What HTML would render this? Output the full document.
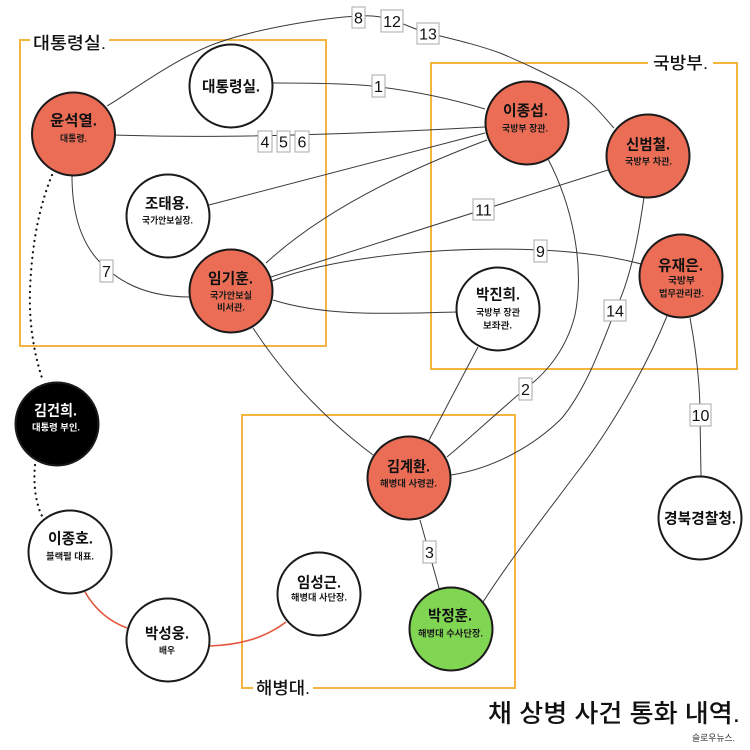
<!DOCTYPE html>
<html><head><meta charset="utf-8"><style>
html,body{margin:0;padding:0;background:#fff;}
svg{display:block;}
text{font-family:"Liberation Sans","Noto Sans CJK KR",sans-serif;}
.nm{font-size:15px;font-weight:700;fill:#111;text-anchor:middle;}
.sb{font-size:9px;font-weight:700;fill:#1a1a1a;text-anchor:middle;}
.lb{font-size:16px;fill:#111;text-anchor:middle;font-family:"Liberation Sans",sans-serif;}
.e{fill:none;stroke:#3a3a3a;stroke-width:1;}
.r{fill:none;stroke:#e4553b;stroke-width:1.6;}
.d{fill:none;stroke:#111;stroke-width:2.2;stroke-linecap:round;stroke-dasharray:0.1 5.6;}
.c{stroke:#1a1a1a;stroke-width:2;}
.bx{fill:#fff;stroke:#a8a8a8;stroke-width:1;}
.ob{fill:none;stroke:#f5b440;stroke-width:2;}
.gl{font-size:17px;font-weight:500;fill:#111;}
</style></head><body>
<svg width="750" height="750" viewBox="0 0 750 750" xmlns="http://www.w3.org/2000/svg">
<rect width="750" height="750" fill="#fff"/>

<path class="ob" d="M30,40 L20,40 L20,346 L326,346 L326,40 L109,40"/>
<text class="gl" x="33" y="49" textLength="73" lengthAdjust="spacingAndGlyphs">대통령실.</text>

<path class="ob" d="M648,63 L431,63 L431,369 L737,369 L737,63 L713,63"/>
<text class="gl" x="653" y="69" textLength="55" lengthAdjust="spacingAndGlyphs">국방부.</text>

<path class="ob" d="M253,688 L242,688 L242,415 L515,415 L515,688 L313,688"/>
<text class="gl" x="256" y="694" textLength="54" lengthAdjust="spacingAndGlyphs">해병대.</text>

<path class="e" d="M107,106 C125,96 175,58 217,43 C259,28 323,18 358,16 C393,14 404,27 428,33 C452,39 475,44 500,53 C524,63 556,78 575,90 C594,103 608,122 614,128"/>
<path class="e" d="M273,83 C320,83 360,84 380,87 C420,92 455,100 485,109"/>
<path class="e" d="M115,135 Q250,140 485,127"/>
<path class="e" d="M209,205 L485,133"/>
<path class="e" d="M266,263 Q340,195 487,140"/>
<path class="e" d="M271,277 L608,170"/>
<path class="e" d="M272,281 C320,262 420,245 540,250 C585,252 615,257 641,264"/>
<path class="e" d="M273,300 C330,318 400,313 457,312"/>
<path class="e" d="M72,176 C72,220 85,250 106,268 C130,290 160,297 190,297"/>
<path class="e" d="M253,328 Q300,400 373,455"/>
<path class="e" d="M478,347 L428,442"/>
<path class="e" d="M548,159 C572,205 585,265 575,315 C565,355 540,378 525,389 C500,410 470,438 447,457"/>
<path class="e" d="M644,197 C638,240 630,280 615,311 C600,350 585,390 562,418 C535,445 495,468 451,475"/>
<path class="e" d="M667,316 C645,370 610,430 575,475 C545,515 510,560 483,602"/>
<path class="e" d="M690,318 C696,350 700,385 700,415 L701,476"/>
<path class="e" d="M420,520 L439,588"/>

<path class="r" d="M85,592 Q100,618 127,628"/>
<path class="r" d="M209,646 C240,645 265,638 286,622"/>

<path class="d" d="M52,175 C40,205 32,240 30,290 C29,320 33,350 42,378"/>
<path class="d" d="M35,465 C33,485 36,505 43,518"/>

<circle class="c" cx="73.5" cy="134" r="41.5" fill="#ec6d56"/>
<circle class="c" cx="231" cy="86" r="41.5" fill="#fff"/>
<circle class="c" cx="168" cy="216" r="41.5" fill="#fff"/>
<circle class="c" cx="231" cy="291" r="41.5" fill="#ec6d56"/>
<circle class="c" cx="527" cy="123" r="41.5" fill="#ec6d56"/>
<circle class="c" cx="648" cy="156" r="41.5" fill="#ec6d56"/>
<circle class="c" cx="681" cy="276" r="41.5" fill="#ec6d56"/>
<circle class="c" cx="498" cy="309" r="41.5" fill="#fff"/>
<circle class="c" cx="57" cy="424" r="41.5" fill="#000"/>
<circle class="c" cx="70" cy="552" r="41.5" fill="#fff"/>
<circle class="c" cx="168" cy="640" r="41.5" fill="#fff"/>
<circle class="c" cx="319" cy="594" r="41.5" fill="#fff"/>
<circle class="c" cx="409" cy="478" r="41.5" fill="#ec6d56"/>
<circle class="c" cx="451" cy="629" r="41.5" fill="#80d552"/>
<circle class="c" cx="700" cy="518" r="41.5" fill="#fff"/>

<text class="nm" x="73.5" y="125.5" textLength="47" lengthAdjust="spacingAndGlyphs">윤석열.</text>
<text class="sb" x="73.5" y="141.3" textLength="27" lengthAdjust="spacingAndGlyphs">대통령.</text>

<text class="nm" x="231" y="91.5" textLength="58" lengthAdjust="spacingAndGlyphs">대통령실.</text>

<text class="nm" x="167" y="208.5" textLength="44" lengthAdjust="spacingAndGlyphs">조태용.</text>
<text class="sb" x="167.5" y="223.3" textLength="51" lengthAdjust="spacingAndGlyphs">국가안보실장.</text>

<text class="nm" x="230.5" y="283.5" textLength="45" lengthAdjust="spacingAndGlyphs">임기훈.</text>
<text class="sb" x="231" y="298.3" textLength="42" lengthAdjust="spacingAndGlyphs">국가안보실</text>
<text class="sb" x="231" y="310.3" textLength="28" lengthAdjust="spacingAndGlyphs">비서관.</text>

<text class="nm" x="525.5" y="115.5" textLength="45" lengthAdjust="spacingAndGlyphs">이종섭.</text>
<text class="sb" x="525" y="131.3" textLength="46" lengthAdjust="spacingAndGlyphs">국방부 장관.</text>

<text class="nm" x="648" y="149.5" textLength="44" lengthAdjust="spacingAndGlyphs">신범철.</text>
<text class="sb" x="648.5" y="164.3" textLength="47" lengthAdjust="spacingAndGlyphs">국방부 차관.</text>

<text class="nm" x="680.5" y="270.5" textLength="45" lengthAdjust="spacingAndGlyphs">유재은.</text>
<text class="sb" x="681.5" y="283.3" textLength="27" lengthAdjust="spacingAndGlyphs">국방부</text>
<text class="sb" x="681.5" y="296.3" textLength="45" lengthAdjust="spacingAndGlyphs">법무관리관.</text>

<text class="nm" x="498" y="299.5" textLength="44" lengthAdjust="spacingAndGlyphs">박진희.</text>
<text class="sb" x="498" y="315.3" textLength="44" lengthAdjust="spacingAndGlyphs">국방부 장관</text>
<text class="sb" x="497.5" y="328.3" textLength="29" lengthAdjust="spacingAndGlyphs">보좌관.</text>

<text class="nm" x="55.5" y="415.5" textLength="43" lengthAdjust="spacingAndGlyphs" style="fill:#fff">김건희.</text>
<text class="sb" x="56" y="430.3" textLength="48" lengthAdjust="spacingAndGlyphs" style="fill:#fff">대통령 부인.</text>

<text class="nm" x="70.5" y="543.5" textLength="45" lengthAdjust="spacingAndGlyphs">이종호.</text>
<text class="sb" x="70" y="559.3" textLength="48" lengthAdjust="spacingAndGlyphs">블랙펄 대표.</text>

<text class="nm" x="167" y="638.5" textLength="44" lengthAdjust="spacingAndGlyphs">박성웅.</text>
<text class="sb" x="167" y="653.3" textLength="16" lengthAdjust="spacingAndGlyphs">배우</text>

<text class="nm" x="319" y="587.5" textLength="44" lengthAdjust="spacingAndGlyphs">임성근.</text>
<text class="sb" x="319" y="600.3" textLength="56" lengthAdjust="spacingAndGlyphs">해병대 사단장.</text>

<text class="nm" x="408.5" y="471.5" textLength="43" lengthAdjust="spacingAndGlyphs">김계환.</text>
<text class="sb" x="408.5" y="486.3" textLength="57" lengthAdjust="spacingAndGlyphs">해병대 사령관.</text>

<text class="nm" x="450" y="620.5" textLength="44" lengthAdjust="spacingAndGlyphs">박정훈.</text>
<text class="sb" x="450.5" y="636.3" textLength="65" lengthAdjust="spacingAndGlyphs">해병대 수사단장.</text>

<text class="nm" x="700" y="523.5" textLength="72" lengthAdjust="spacingAndGlyphs">경북경찰청.</text>

<rect class="bx" x="352" y="7" width="13" height="21"/><text class="lb" x="358.5" y="23.5">8</text>
<rect class="bx" x="381" y="10" width="22" height="22"/><text class="lb" x="392" y="27">12</text>
<rect class="bx" x="417" y="23" width="22" height="21"/><text class="lb" x="428" y="39.5">13</text>
<rect class="bx" x="372" y="75" width="13" height="22"/><text class="lb" x="378.5" y="92">1</text>
<rect class="bx" x="258" y="131" width="14" height="21"/><text class="lb" x="265" y="147.5">4</text>
<rect class="bx" x="277" y="131" width="13" height="21"/><text class="lb" x="283.5" y="147.5">5</text>
<rect class="bx" x="295" y="131" width="14" height="21"/><text class="lb" x="302" y="147.5">6</text>
<rect class="bx" x="100" y="260" width="13" height="22"/><text class="lb" x="106.5" y="277">7</text>
<rect class="bx" x="473" y="199" width="21" height="21"/><text class="lb" x="483.5" y="215.5">11</text>
<rect class="bx" x="534" y="240" width="13" height="22"/><text class="lb" x="540.5" y="257">9</text>
<rect class="bx" x="604" y="300" width="22" height="21"/><text class="lb" x="615" y="316.5">14</text>
<rect class="bx" x="519" y="378" width="13" height="22"/><text class="lb" x="525.5" y="395">2</text>
<rect class="bx" x="690" y="404" width="21" height="22"/><text class="lb" x="700.5" y="421">10</text>
<rect class="bx" x="423" y="541" width="13" height="22"/><text class="lb" x="429.5" y="558">3</text>

<text x="488" y="722" style="font-size:25px;font-weight:500;fill:#111" textLength="252" lengthAdjust="spacingAndGlyphs">채 상병 사건 통화 내역.</text>
<text x="692" y="741" style="font-size:9px;fill:#333" textLength="43" lengthAdjust="spacingAndGlyphs">슬로우뉴스.</text>
</svg>
</body></html>
